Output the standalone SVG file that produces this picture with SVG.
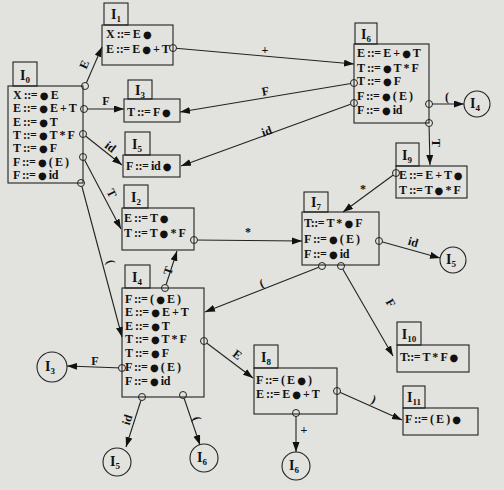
<svg xmlns="http://www.w3.org/2000/svg" width="504" height="490" viewBox="0 0 504 490">
<style>
.bx{fill:none;stroke:#222;stroke-width:1.1}
.r{font-family:"Liberation Serif",serif;font-weight:bold;font-size:12px;fill:#111;letter-spacing:-0.45px}
.b{font-family:"DejaVu Sans",sans-serif;font-size:10px}
.t{font-family:"Liberation Serif",serif;font-weight:bold;font-size:14px;fill:#111;text-anchor:middle}
.s{font-size:9px}
.ln{stroke:#222;stroke-width:1.1;fill:none;marker-end:url(#ah)}
.c{fill:#e2e2de;stroke:#222;stroke-width:1}
.lb{font-family:"Liberation Serif",serif;font-weight:bold;font-size:12px;fill:#111;text-anchor:middle}
.sc{fill:none;stroke:#222;stroke-width:1.1}
</style>
<defs>
<marker id="ah" markerWidth="11" markerHeight="8" refX="10" refY="3.5" orient="auto" markerUnits="userSpaceOnUse">
<path d="M0,0 L10,3.5 L0,7 z" fill="#111"/>
</marker>
</defs>
<rect width="504" height="490" fill="#e2e2de"/>

<g id="connectors">
<line class="ln" x1="85" y1="86" x2="102" y2="47"/>
<line class="ln" x1="84" y1="109" x2="124" y2="109"/>
<line class="ln" x1="83" y1="134" x2="122" y2="165"/>
<line class="ln" x1="83" y1="157" x2="121" y2="229"/>
<line class="ln" x1="81" y1="183" x2="122" y2="337"/>
<line class="ln" x1="173" y1="48" x2="354" y2="64"/>
<line class="ln" x1="354" y1="83" x2="180" y2="112"/>
<line class="ln" x1="354" y1="103" x2="181" y2="166"/>
<line class="ln" x1="429" y1="104" x2="464" y2="104"/>
<line class="ln" x1="429" y1="123" x2="430" y2="165"/>
<line class="ln" x1="396" y1="173" x2="343" y2="212"/>
<line class="ln" x1="194" y1="240" x2="302" y2="241"/>
<line class="ln" x1="379" y1="241" x2="440" y2="258"/>
<line class="ln" x1="322" y1="266" x2="205" y2="312"/>
<line class="ln" x1="341" y1="266" x2="393" y2="356"/>
<line class="ln" x1="165" y1="288" x2="177" y2="251"/>
<line class="ln" x1="204" y1="341" x2="253" y2="378"/>
<line class="ln" x1="122" y1="368" x2="67" y2="366"/>
<line class="ln" x1="142" y1="397" x2="126" y2="447"/>
<line class="ln" x1="183" y1="395" x2="200" y2="445"/>
<line class="ln" x1="337" y1="391" x2="402" y2="420"/>
<line class="ln" x1="296" y1="413" x2="296" y2="452"/>
<circle class="c" cx="85" cy="86" r="3.5"/>
<circle class="c" cx="84" cy="109" r="3.5"/>
<circle class="c" cx="83" cy="134" r="3.5"/>
<circle class="c" cx="83" cy="157" r="3.5"/>
<circle class="c" cx="81" cy="183" r="3.5"/>
<circle class="c" cx="173" cy="48" r="3.5"/>
<circle class="c" cx="354" cy="83" r="3.5"/>
<circle class="c" cx="354" cy="103" r="3.5"/>
<circle class="c" cx="429" cy="104" r="3.5"/>
<circle class="c" cx="429" cy="123" r="3.5"/>
<circle class="c" cx="396" cy="173" r="3.5"/>
<circle class="c" cx="194" cy="240" r="3.5"/>
<circle class="c" cx="379" cy="241" r="3.5"/>
<circle class="c" cx="322" cy="266" r="3.5"/>
<circle class="c" cx="341" cy="266" r="3.5"/>
<circle class="c" cx="165" cy="288" r="3.5"/>
<circle class="c" cx="204" cy="341" r="3.5"/>
<circle class="c" cx="122" cy="368" r="3.5"/>
<circle class="c" cx="142" cy="397" r="3.5"/>
<circle class="c" cx="183" cy="395" r="3.5"/>
<circle class="c" cx="337" cy="391" r="3.5"/>
<circle class="c" cx="296" cy="413" r="3.5"/>
<text class="lb" transform="translate(88,66) rotate(-66)">E</text>
<text class="lb" x="106" y="105">F</text>
<text class="lb" transform="translate(108,150) rotate(38)">id</text>
<text class="lb" transform="translate(108,195) rotate(63)">T</text>
<text class="lb" transform="translate(107,263) rotate(75)">(</text>
<text class="lb" x="265" y="54">+</text>
<text class="lb" transform="translate(266,95) rotate(-10)">F</text>
<text class="lb" transform="translate(268,135) rotate(-20)">id</text>
<text class="lb" x="447" y="101">(</text>
<text class="lb" transform="translate(432,143) rotate(90)">T</text>
<text class="lb" x="363" y="193">*</text>
<text class="lb" x="248" y="236">*</text>
<text class="lb" transform="translate(412,246) rotate(16)">id</text>
<text class="lb" transform="translate(263,287) rotate(-21)">(</text>
<text class="lb" transform="translate(387,305) rotate(60)">F</text>
<text class="lb" transform="translate(172,272) rotate(-72)">T</text>
<text class="lb" transform="translate(235,358) rotate(37)">E</text>
<text class="lb" x="95" y="365">F</text>
<text class="lb" transform="translate(131,421) rotate(-72)">id</text>
<text class="lb" transform="translate(193,420) rotate(72)">(</text>
<text class="lb" x="304" y="434">+</text>
<text class="lb" transform="translate(372,403) rotate(24)">)</text>
</g>

<g id="I0">
<rect class="bx" x="13" y="62" width="24" height="24"/>
<rect class="bx" x="8" y="86" width="75" height="97"/>
<text class="t" x="25" y="80">I<tspan class="s" dy="3">0</tspan></text>
<text class="r" x="13" y="99">X ::= <tspan class="b">●</tspan> E</text>
<text class="r" x="13" y="112">E ::= <tspan class="b">●</tspan> E + T</text>
<text class="r" x="13" y="126">E ::= <tspan class="b">●</tspan> T</text>
<text class="r" x="13" y="139">T ::= <tspan class="b">●</tspan> T * F</text>
<text class="r" x="13" y="152">T ::= <tspan class="b">●</tspan> F</text>
<text class="r" x="13" y="166">F ::= <tspan class="b">●</tspan> ( E )</text>
<text class="r" x="13" y="179">F ::= <tspan class="b">●</tspan> id</text>
</g>

<g id="I1">
<rect class="bx" x="104" y="3" width="24" height="22"/>
<rect class="bx" x="102" y="25" width="71" height="40"/>
<text class="t" x="116" y="19">I<tspan class="s" dy="3">1</tspan></text>
<text class="r" x="106" y="38">X ::= E <tspan class="b">●</tspan></text>
<text class="r" x="106" y="53">E ::= E <tspan class="b">●</tspan> + T</text>
</g>

<g id="I3">
<rect class="bx" x="128" y="80" width="24" height="19"/>
<rect class="bx" x="124" y="99" width="56" height="23"/>
<text class="t" x="140" y="95">I<tspan class="s" dy="3">3</tspan></text>
<text class="r" x="127" y="116">T ::= F <tspan class="b">●</tspan></text>
</g>

<g id="I5">
<rect class="bx" x="125" y="132" width="25" height="23"/>
<rect class="bx" x="123" y="155" width="57" height="22"/>
<text class="t" x="137" y="149">I<tspan class="s" dy="3">5</tspan></text>
<text class="r" x="126" y="170">F ::= id <tspan class="b">●</tspan></text>
</g>

<g id="I6">
<rect class="bx" x="355" y="23" width="22" height="21"/>
<rect class="bx" x="354" y="44" width="75" height="79"/>
<text class="t" x="366" y="39">I<tspan class="s" dy="3">6</tspan></text>
<text class="r" x="357" y="57">E ::= E + <tspan class="b">●</tspan> T</text>
<text class="r" x="357" y="72">T ::= <tspan class="b">●</tspan> T * F</text>
<text class="r" x="357" y="85">T ::= <tspan class="b">●</tspan> F</text>
<text class="r" x="357" y="100">F ::= <tspan class="b">●</tspan> ( E )</text>
<text class="r" x="357" y="114">F ::= <tspan class="b">●</tspan> id</text>
</g>

<g id="I9">
<rect class="bx" x="396" y="143" width="23" height="23"/>
<rect class="bx" x="396" y="166" width="71" height="32"/>
<text class="t" x="407" y="160">I<tspan class="s" dy="3">9</tspan></text>
<text class="r" x="399" y="179">E ::= E + T <tspan class="b">●</tspan></text>
<text class="r" x="399" y="194">T ::= T <tspan class="b">●</tspan> * F</text>
</g>

<g id="I2">
<rect class="bx" x="124" y="185" width="24" height="23"/>
<rect class="bx" x="122" y="208" width="72" height="42"/>
<text class="t" x="136" y="202">I<tspan class="s" dy="3">2</tspan></text>
<text class="r" x="124" y="222">E ::= T <tspan class="b">●</tspan></text>
<text class="r" x="124" y="237">T ::= T <tspan class="b">●</tspan> * F</text>
</g>

<g id="I7">
<rect class="bx" x="304" y="192" width="24" height="20"/>
<rect class="bx" x="302" y="212" width="77" height="53"/>
<text class="t" x="316" y="207">I<tspan class="s" dy="3">7</tspan></text>
<text class="r" x="304" y="227">T::= T * <tspan class="b">●</tspan> F</text>
<text class="r" x="304" y="243">F ::= <tspan class="b">●</tspan> ( E )</text>
<text class="r" x="304" y="258">F ::= <tspan class="b">●</tspan> id</text>
</g>

<g id="I4">
<rect class="bx" x="125" y="265" width="25" height="23"/>
<rect class="bx" x="122" y="288" width="82" height="109"/>
<text class="t" x="137" y="282">I<tspan class="s" dy="3">4</tspan></text>
<text class="r" x="125" y="303">F ::= ( <tspan class="b">●</tspan> E )</text>
<text class="r" x="125" y="316">E ::= <tspan class="b">●</tspan> E + T</text>
<text class="r" x="125" y="330">E ::= <tspan class="b">●</tspan> T</text>
<text class="r" x="125" y="343">T ::= <tspan class="b">●</tspan> T * F</text>
<text class="r" x="125" y="357">T ::= <tspan class="b">●</tspan> F</text>
<text class="r" x="125" y="371">F ::= <tspan class="b">●</tspan> ( E )</text>
<text class="r" x="125" y="385">F ::= <tspan class="b">●</tspan> id</text>
</g>

<g id="I8">
<rect class="bx" x="254" y="345" width="24" height="23"/>
<rect class="bx" x="254" y="368" width="83" height="46"/>
<text class="t" x="266" y="362">I<tspan class="s" dy="3">8</tspan></text>
<text class="r" x="256" y="384">F ::= ( E <tspan class="b">●</tspan> )</text>
<text class="r" x="256" y="398">E ::= E <tspan class="b">●</tspan> + T</text>
</g>

<g id="I10">
<rect class="bx" x="397" y="322" width="24" height="23"/>
<rect class="bx" x="397" y="345" width="72" height="27"/>
<text class="t" x="409" y="339">I<tspan class="s" dy="3">10</tspan></text>
<text class="r" x="400" y="361">T::= T * F <tspan class="b">●</tspan></text>
</g>

<g id="I11">
<rect class="bx" x="403" y="386" width="22" height="22"/>
<rect class="bx" x="403" y="408" width="75" height="27"/>
<text class="t" x="414" y="402">I<tspan class="s" dy="3">11</tspan></text>
<text class="r" x="405" y="423">F ::= ( E ) <tspan class="b">●</tspan></text>
</g>

<g id="S_I4a">
<circle class="sc" cx="477" cy="104" r="13"/>
<text class="t" x="475" y="108">I<tspan class="s" dy="3">4</tspan></text>
</g>
<g id="S_I5a">
<circle class="sc" cx="453" cy="260" r="13"/>
<text class="t" x="451" y="264">I<tspan class="s" dy="3">5</tspan></text>
</g>
<g id="S_I3">
<circle class="sc" cx="52" cy="367" r="15"/>
<text class="t" x="50" y="371">I<tspan class="s" dy="3">3</tspan></text>
</g>
<g id="S_I5b">
<circle class="sc" cx="117" cy="462" r="14"/>
<text class="t" x="115" y="466">I<tspan class="s" dy="3">5</tspan></text>
</g>
<g id="S_I6b">
<circle class="sc" cx="204" cy="458" r="14"/>
<text class="t" x="202" y="462">I<tspan class="s" dy="3">6</tspan></text>
</g>
<g id="S_I6c">
<circle class="sc" cx="296" cy="466" r="14"/>
<text class="t" x="294" y="470">I<tspan class="s" dy="3">6</tspan></text>
</g>
</svg>
